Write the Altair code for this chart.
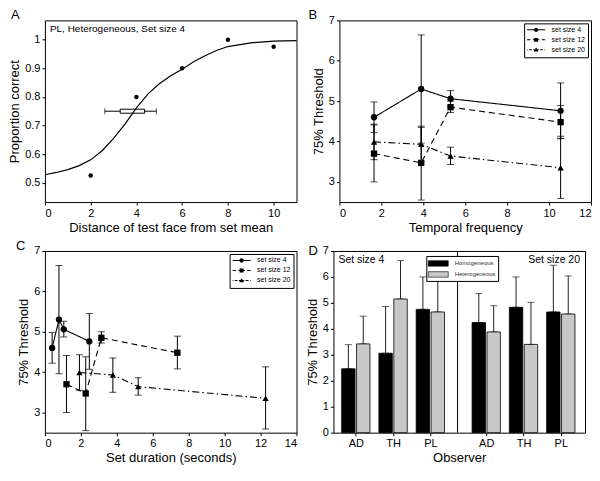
import altair as alt
import pandas as pd

FONT = "Liberation Sans"
W, H = 252, 182

# ---------------- Panel A ----------------
a_distance = [2, 4, 6, 8, 10]
a_correct = [0.525, 0.80, 0.90, 1.00, 0.975]
a_fit_distance = [0, 0.5, 1, 1.5, 2, 2.5, 3, 3.5, 4, 4.5, 5, 5.5, 6, 6.5, 7, 7.5, 8, 9, 10, 11]
a_fit_correct = [0.528, 0.536, 0.546, 0.560, 0.580, 0.612, 0.655, 0.705, 0.762, 0.810,
                 0.846, 0.874, 0.897, 0.923, 0.944, 0.962, 0.976, 0.989, 0.995, 0.997]
a_level = 0.75
a_box = [3.29, 4.36]
a_whisker = [2.62, 4.87]
a_note = "PL, Heterogeneous, Set size 4"

# ---------------- Panels B / C ----------------
bc_series = ["set size 4", "set size 12", "set size 20"]
bc_shapes = ["circle", "square", "triangle-up"]
b_freq = [1.65, 3.9, 5.3, 10.55]
c_dur_4 = [0.40, 0.78, 1.05, 2.47]
c_dur_12 = [1.20, 2.27, 3.14, 7.37]
c_dur_20 = [1.92, 3.78, 5.19, 12.28]
thr_4 = [4.60, 5.30, 5.06, 4.76]
thr_12 = [3.70, 3.47, 4.85, 4.48]
thr_20 = [3.99, 3.93, 3.64, 3.35]
lo_4 = [4.22, 3.96, 4.87, 4.07]
hi_4 = [4.98, 6.64, 5.26, 5.45]
lo_12 = [3.00, 2.55, 4.72, 4.08]
hi_12 = [4.41, 4.38, 5.00, 4.89]
lo_20 = [3.55, 3.50, 3.43, 2.59]
hi_20 = [4.43, 4.35, 3.86, 4.13]

# ---------------- Panel D ----------------
d_observers = ["AD", "TH", "PL"]
d_setsizes = ["Set size 4", "Set size 20"]
d_types = ["Homogeneous", "Heterogeneous"]
d_hom_4 = [2.46, 3.06, 4.75]
d_hom_4_top = [3.39, 4.86, 6.00]
d_het_4 = [3.42, 5.15, 4.65]
d_het_4_top = [4.49, 6.63, 6.00]
d_hom_20 = [4.24, 4.83, 4.65]
d_hom_20_top = [5.36, 6.00, 6.45]
d_het_20 = [3.88, 3.40, 4.57]
d_het_20_top = [4.89, 5.02, 6.04]

# layout of panel D slots (category positions on the shared axis)
d_slots = [[1, 2, 3], [4.5, 5.5, 6.5]]
d_divider = 3.73
d_bar_span = {"Homogeneous": (-0.38, -0.02), "Heterogeneous": (0.02, 0.38)}

# ---------------- helpers ----------------
def letter(ch, dx, dy):
    return alt.Chart(pd.DataFrame({"t": [ch]})).mark_text(
        align="left", baseline="alphabetic", fontSize=13, font=FONT, color="black"
    ).encode(x=alt.value(dx), y=alt.value(dy), text="t:N")


# ---------------- Panel A chart ----------------
a_pts = pd.DataFrame({"d": a_distance, "p": a_correct})
a_fit = pd.DataFrame({"d": a_fit_distance, "p": a_fit_correct})
a_thr = pd.DataFrame({"w0": [a_whisker[0]], "w1": [a_whisker[1]],
                      "b0": [a_box[0]], "b1": [a_box[1]], "p": [a_level]})

xsA = alt.Scale(domain=[0, 11], nice=False)
axA = alt.Axis(values=[0, 2, 4, 6, 8, 10], title="Distance of test face from set mean")
ysA = alt.Scale(domain=[0.45, 1.05], nice=False, zero=False)
ayA = alt.Axis(values=[0.5, 0.6, 0.7, 0.8, 0.9, 1.0], format="~g", title="Proportion correct")

a_whisk = alt.Chart(a_thr).mark_errorbar(orient="horizontal", ticks=True, size=6, thickness=1, color="black").encode(
    x=alt.X("w0:Q", scale=xsA, axis=axA), x2="w1:Q", y=alt.Y("p:Q", scale=ysA, axis=ayA))
a_boxm = alt.Chart(a_thr).mark_bar(orient="horizontal", size=4, fill="white", stroke="black", strokeWidth=1).encode(
    x=alt.X("b0:Q", scale=xsA, axis=axA), x2="b1:Q", y=alt.Y("p:Q", scale=ysA, axis=ayA))
a_curve = alt.Chart(a_fit).mark_line(color="black", strokeWidth=1.2).encode(
    x=alt.X("d:Q", scale=xsA, axis=axA), y=alt.Y("p:Q", scale=ysA, axis=ayA))
a_dots = alt.Chart(a_pts).mark_circle(color="black", size=20, opacity=1).encode(
    x=alt.X("d:Q", scale=xsA, axis=axA), y=alt.Y("p:Q", scale=ysA, axis=ayA))
a_text = alt.Chart(pd.DataFrame({"t": [a_note]})).mark_text(
    align="left", baseline="top", fontSize=10, font=FONT, color="black"
).encode(x=alt.value(5), y=alt.value(4), text="t:N")

panelA = alt.layer(a_whisk, a_boxm, a_curve, a_dots, a_text, letter("A", -34, -1)).properties(width=W, height=H)

# ---------------- Panels B / C chart ----------------
c_durs = [c_dur_4, c_dur_12, c_dur_20]
thrs = [thr_4, thr_12, thr_20]
los = [lo_4, lo_12, lo_20]
his = [hi_4, hi_12, hi_20]
rows = []
for s, name in enumerate(bc_series):
    for i in range(len(b_freq)):
        rows.append({"series": name, "freq": b_freq[i], "dur": c_durs[s][i],
                     "thr": thrs[s][i], "lo": los[s][i], "hi": his[s][i]})
bc = pd.DataFrame(rows)


# legend symbols: line style (thin filled bars) + marker, as SVG paths
def seg(a, b):
    return f"M{a},-0.17H{b}V0.17H{a}Z"


legend_paths = [
    seg(-3, 3) + "M0.7,0A0.7,0.7,0,1,1,-0.7,0A0.7,0.7,0,1,1,0.7,0Z",
    seg(-3, -1.9) + seg(-1.1, 1.1) + seg(1.9, 3) + "M-0.65,-0.65H0.65V0.65H-0.65Z",
    seg(-3, -2.8) + seg(-2.3, -1.4) + seg(-0.9, 0.9) + seg(1.4, 2.3) + seg(2.8, 3) + "M0,-0.8L0.8,0.6H-0.8Z",
]


def make_bc(xfield, xmax, xtitle, ch, ldx):
    xs = alt.Scale(domain=[0, xmax], nice=False)
    ax = alt.Axis(values=list(range(0, xmax + 1, 2)), title=xtitle)
    ys = alt.Scale(domain=[2.5, 7], nice=False, zero=False)
    ay = alt.Axis(values=[3, 4, 5, 6, 7], title="75% Threshold")
    dash = alt.StrokeDash("series:N", scale=alt.Scale(domain=bc_series, range=[[1, 0], [6, 4], [7, 3, 1.5, 3]]),
                          legend=None)
    lines = alt.Chart(bc).mark_line(color="black", strokeWidth=1.1).encode(
        x=alt.X(f"{xfield}:Q", scale=xs, axis=ax), y=alt.Y("thr:Q", scale=ys, axis=ay),
        strokeDash=dash, detail="series:N")
    errs = alt.Chart(bc).mark_errorbar(orient="vertical", ticks=True, size=7, thickness=1, color="black").encode(
        x=alt.X(f"{xfield}:Q", scale=xs, axis=ax), y=alt.Y("lo:Q", scale=ys, axis=ay), y2="hi:Q")
    pts = alt.Chart(bc).mark_point(filled=True, color="black", size=40, opacity=1).encode(
        x=alt.X(f"{xfield}:Q", scale=xs, axis=ax), y=alt.Y("thr:Q", scale=ys, axis=ay),
        shape=alt.Shape("series:N", scale=alt.Scale(domain=bc_series, range=bc_shapes),
                        legend=None))
    leg = alt.Chart(bc).transform_filter("false").mark_point(
        filled=False, color="black", fill="black", stroke="black", strokeWidth=1, opacity=1
    ).encode(
        shape=alt.Shape("series:N", scale=alt.Scale(domain=bc_series, range=legend_paths),
                        legend=alt.Legend(title=None, orient="top-right", offset=3, strokeColor="black",
                                          fillColor="white", padding=3, labelFontSize=7, labelFont=FONT,
                                          symbolSize=36, symbolOffset=5.5, labelOffset=12, rowPadding=1,
                                          symbolStrokeColor="black", symbolFillColor="black",
                                          symbolStrokeWidth=1, symbolOpacity=1, labelColor="black"))
    )
    return alt.layer(lines, errs, pts, leg, letter(ch, ldx, -1)).resolve_scale(shape="independent").properties(
        width=W, height=H)


panelB = make_bc("freq", 12, "Temporal frequency", "B", -31)
panelC = make_bc("dur", 14, "Set duration (seconds)", "C", -29)

# ---------------- Panel D chart ----------------
d_vals = {
    ("Set size 4", "Homogeneous"): (d_hom_4, d_hom_4_top),
    ("Set size 4", "Heterogeneous"): (d_het_4, d_het_4_top),
    ("Set size 20", "Homogeneous"): (d_hom_20, d_hom_20_top),
    ("Set size 20", "Heterogeneous"): (d_het_20, d_het_20_top),
}
drows = []
for si, ss in enumerate(d_setsizes):
    for oi, ob in enumerate(d_observers):
        for ty in d_types:
            vals, tops = d_vals[(ss, ty)]
            off0, off1 = d_bar_span[ty]
            slot = d_slots[si][oi]
            drows.append({"setsize": ss, "observer": ob, "type": ty,
                          "x0": slot + off0, "x1": slot + off1, "xc": slot + (off0 + off1) / 2,
                          "val": vals[oi], "top": tops[oi]})
dd = pd.DataFrame(drows)

slot_vals = d_slots[0] + d_slots[1]
slot_names = d_observers + d_observers
label_expr = "".join(f"datum.value=={v}?'{n}':" for v, n in zip(slot_vals, slot_names)) + "''"
xsD = alt.Scale(domain=[0.4, 7.15], nice=False)
axD = alt.Axis(values=slot_vals, labelExpr=label_expr, title="Observer", ticks=True)
ysD = alt.Scale(domain=[0, 7], nice=False)
ayD = alt.Axis(values=list(range(0, 8)), title="75% Threshold")

# legend of panel D is placed in the root view's coordinates (origin = panel A plot corner)
D_LEG_X = 284 + W / 2 - 28
D_LEG_Y = 233 + 3

d_errs = alt.Chart(dd).mark_errorbar(orient="vertical", ticks=True, size=7, thickness=1, color="#222222").encode(
    x=alt.X("xc:Q", scale=xsD, axis=axD), y=alt.Y("val:Q", scale=ysD, axis=ayD), y2="top:Q")
d_bars = alt.Chart(dd).mark_rect(stroke="black", strokeWidth=0.8).encode(
    x=alt.X("x0:Q", scale=xsD, axis=axD), x2="x1:Q",
    y=alt.Y("val:Q", scale=ysD, axis=ayD), y2=alt.datum(0),
    fill=alt.Fill("type:N", scale=alt.Scale(domain=d_types, range=["black", "#c8c8c8"]),
                  legend=alt.Legend(title=None, orient="none", legendX=D_LEG_X, legendY=D_LEG_Y,
                                    direction="vertical", strokeColor="black", fillColor="white",
                                    padding=2, labelFontSize=6, labelFont=FONT, labelColor="#333333",
                                    symbolType="M-2,-0.55H2V0.55H-2Z", symbolSize=100,
                                    symbolOffset=4.5, labelOffset=11, rowPadding=1,
                                    symbolStrokeColor="black", symbolStrokeWidth=0.6)))
d_div = alt.Chart(pd.DataFrame({"x": [d_divider]})).mark_rule(color="black", strokeWidth=1).encode(
    x=alt.X("x:Q", scale=xsD, axis=axD))
d_t1 = alt.Chart(pd.DataFrame({"t": [d_setsizes[0]]})).mark_text(
    align="left", baseline="top", fontSize=10.5, font=FONT, color="black"
).encode(x=alt.value(5), y=alt.value(4), text="t:N")
d_t2 = alt.Chart(pd.DataFrame({"t": [d_setsizes[1]]})).mark_text(
    align="right", baseline="top", fontSize=10.5, font=FONT, color="black"
).encode(x=alt.value(W - 5), y=alt.value(4), text="t:N")

panelD = alt.layer(d_errs, d_bars, d_div, d_t1, d_t2, letter("D", -25, 4)).properties(width=W, height=H)

# ---------------- assemble ----------------
chart = alt.vconcat(
    alt.hconcat(panelA, panelB, spacing=8),
    alt.hconcat(panelC, panelD, spacing=8),
    spacing=4,
).properties(padding=0).configure_view(
    stroke="black", strokeWidth=1
).configure_axis(
    labelFont=FONT, titleFont=FONT, labelFontSize=11, titleFontSize=13, titleFontWeight="normal",
    labelColor="black", titleColor="black", tickColor="black", tickSize=3, domain=False, grid=False,
    labelPadding=2, titlePadding=3
)

chart.save("out.html", embed_options={"renderer": "svg", "actions": False})
